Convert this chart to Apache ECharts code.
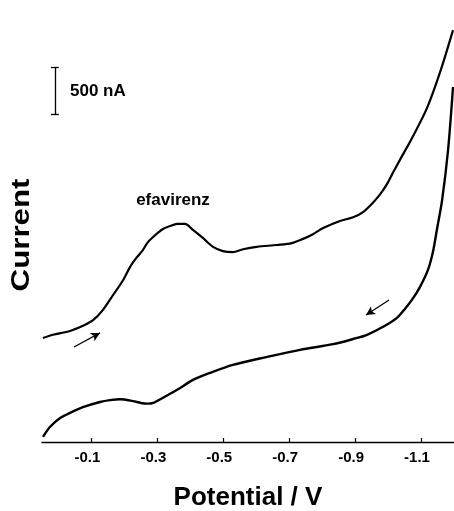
<!DOCTYPE html>
<html>
<head>
<meta charset="utf-8">
<script src="https://cdn.jsdelivr.net/npm/echarts@6/dist/echarts.min.js"></script>
<style>
  html, body { margin: 0; padding: 0; background: #fff; }
  #chart { width: 454px; height: 511px; }
</style>
</head>
<body>
<div id="chart"></div>
<script>
// potential (V) vs current (nA)
const forwardScan = [
  [0.047, 1105], [0.017, 1140], [-0.035, 1180], [-0.074, 1235], [-0.105, 1295],
  [-0.135, 1405], [-0.165, 1560], [-0.196, 1720], [-0.217, 1860], [-0.238, 1965],
  [-0.256, 2040], [-0.269, 2115], [-0.287, 2180], [-0.317, 2265], [-0.338, 2296],
  [-0.360, 2320], [-0.384, 2320], [-0.408, 2255], [-0.438, 2170], [-0.469, 2075],
  [-0.499, 2030], [-0.529, 2020], [-0.560, 2050], [-0.602, 2075], [-0.663, 2095],
  [-0.708, 2115], [-0.742, 2160], [-0.772, 2210], [-0.803, 2275], [-0.854, 2350],
  [-0.894, 2390], [-0.924, 2445], [-0.954, 2545], [-0.975, 2630], [-0.997, 2745],
  [-1.015, 2865], [-1.036, 3000], [-1.076, 3255], [-1.118, 3550],
  [-1.158, 3935], [-1.197, 4380]
];
const reverseScan = [
  [-1.197, 3775], [-1.182, 3105], [-1.164, 2575], [-1.148, 2255], [-1.136, 2020],
  [-1.121, 1830], [-1.097, 1650], [-1.076, 1530], [-1.051, 1415], [-1.027, 1320],
  [-0.985, 1225], [-0.936, 1140], [-0.894, 1095], [-0.833, 1040], [-0.733, 980],
  [-0.633, 905], [-0.529, 820], [-0.460, 735], [-0.408, 660], [-0.360, 555],
  [-0.317, 470], [-0.290, 420], [-0.270, 408], [-0.250, 415], [-0.226, 435],
  [-0.187, 455], [-0.156, 445], [-0.126, 425], [-0.074, 370], [-0.035, 310],
  [-0.005, 255], [0.026, 160], [0.047, 55]
];
const tickValues = [-0.1, -0.3, -0.5, -0.7, -0.9, -1.1];
// scan direction arrows: [from, to]
const arrows = [
  [[-0.047, 1010], [-0.126, 1160]],
  [[-1.003, 1510], [-0.933, 1350]]
];
// 500 nA scale bar
const scaleBarX = 0.011;
const scaleBarY = [3480, 3980];
const scaleBarSerif = 0.012;

const font = '"Liberation Sans", Arial, sans-serif';
const chart = echarts.init(document.getElementById('chart'));

const markLines = arrows.map(a => [
  { coord: a[0], symbol: 'none' },
  { coord: a[1], symbol: 'arrow', symbolSize: [7, 9] }
]).concat([
  [{ coord: [scaleBarX, scaleBarY[0]] }, { coord: [scaleBarX, scaleBarY[1]] }],
  [{ coord: [scaleBarX - scaleBarSerif, scaleBarY[0]] }, { coord: [scaleBarX + scaleBarSerif, scaleBarY[0]] }],
  [{ coord: [scaleBarX - scaleBarSerif, scaleBarY[1]] }, { coord: [scaleBarX + scaleBarSerif, scaleBarY[1]] }]
]);

chart.setOption({
  animation: false,
  backgroundColor: '#fff',
  grid: { left: 42, right: 0, top: 0, bottom: 69, outerBoundsMode: 'none', containLabel: false },
  xAxis: {
    type: 'value',
    min: -1.2,
    max: 0.05,
    inverse: true,
    name: 'Potential / V',
    nameLocation: 'middle',
    nameGap: 43,
    nameTextStyle: { fontFamily: font, fontSize: 26, fontWeight: 'bold', color: '#000' },
    axisLine: { onZero: false, lineStyle: { color: '#000', width: 1.3 } },
    axisTick: { inside: true, length: 4, customValues: tickValues, lineStyle: { color: '#000', width: 1.2 } },
    axisLabel: {
      customValues: tickValues,
      margin: 8,
      padding: [0, 8, 0, 0],
      fontFamily: font, fontSize: 15, fontWeight: 'bold', color: '#000',
      formatter: v => v.toFixed(1)
    },
    splitLine: { show: false }
  },
  yAxis: { type: 'value', min: 0, max: 4700, show: false },
  series: [
    {
      type: 'line', data: forwardScan, smooth: 0.3, symbol: 'none',
      lineStyle: { color: '#000', width: 2.2 }
    },
    {
      type: 'line', data: reverseScan, smooth: 0.3, symbol: 'none',
      lineStyle: { color: '#000', width: 2.4 }
    },
    {
      type: 'line', data: [], symbol: 'none',
      markLine: {
        silent: true,
        symbol: 'none',
        label: { show: false },
        lineStyle: { color: '#000', width: 1.3, type: 'solid' },
        data: markLines
      }
    }
  ],
  graphic: [
    {
      type: 'text', x: 22, y: 235, rotation: Math.PI / 2, scaleX: 1.25,
      style: { text: 'Current', font: 'bold 25px ' + font, fill: '#000', textAlign: 'center', textVerticalAlign: 'middle' }
    },
    {
      type: 'text', x: 173, y: 200,
      style: { text: 'efavirenz', font: 'bold 17px ' + font, fill: '#000', textAlign: 'center', textVerticalAlign: 'middle' }
    },
    {
      type: 'text', x: 70, y: 91,
      style: { text: '500 nA', font: 'bold 17px ' + font, fill: '#000', textAlign: 'left', textVerticalAlign: 'middle' }
    }
  ]
});
</script>
</body>
</html>
